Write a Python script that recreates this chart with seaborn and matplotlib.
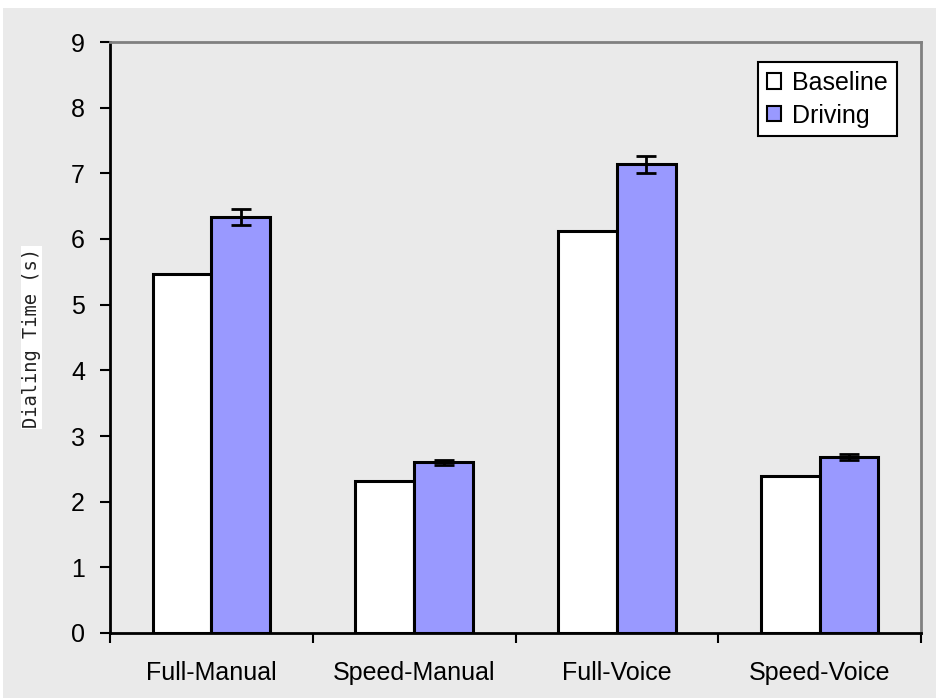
import numpy as np
import pandas as pd
import matplotlib
matplotlib.use("Agg")
import matplotlib.pyplot as plt
import seaborn as sns
from matplotlib.patches import Rectangle

# Data
tasks = ["Full-Manual", "Speed-Manual", "Full-Voice", "Speed-Voice"]
baseline = [5.47, 2.31, 6.12, 2.39]
driving = [6.33, 2.60, 7.14, 2.68]
baseline_err = [0.0, 0.0, 0.0, 0.0]
driving_err = [0.12, 0.04, 0.13, 0.04]
conditions = ["Baseline", "Driving"]
y_ticks = list(range(0, 10))

COLOURS = {"Baseline": "#FFFFFF", "Driving": "#9999FF"}
BG = "#EAEAEA"

df = pd.DataFrame({
    "task": tasks * 2,
    "condition": ["Baseline"] * len(tasks) + ["Driving"] * len(tasks),
    "time": baseline + driving,
    "err": baseline_err + driving_err,
})

sns.set_theme(style="white")
plt.rcParams["font.family"] = ["Liberation Sans", "DejaVu Sans"]
plt.rcParams.update({"text.color": "black", "axes.labelcolor": "black",
                     "xtick.color": "black", "ytick.color": "black"})

fig = plt.figure(figsize=(9.36, 6.98), dpi=100, facecolor="white")
fig.patches.append(Rectangle((3 / 936, 0), 1, 1 - 8 / 698, transform=fig.transFigure,
                             facecolor=BG, edgecolor="none", zorder=-10))
ax = fig.add_axes([110 / 936, 1 - 633 / 698, (921 - 110) / 936, (633 - 42) / 698])
ax.set_facecolor(BG)

sns.barplot(data=df, x="task", y="time", hue="condition", order=tasks,
            hue_order=conditions, palette=COLOURS, width=0.58, errorbar=None,
            edgecolor="black", linewidth=2.2, ax=ax, saturation=1)

# error bars, placed at the centres of the drawn bars
for cont, cond in zip(ax.containers, conditions):
    errs = df.loc[df["condition"] == cond, "err"].to_numpy()
    xs = [b.get_x() + b.get_width() / 2 for b in cont]
    hs = [b.get_height() for b in cont]
    ax.errorbar(xs, hs, yerr=errs, fmt="none", ecolor="black", elinewidth=2,
                capsize=7.5, capthick=2, zorder=5)

ax.set_ylim(0, 9)
ax.set_yticks(y_ticks)
ax.set_xlim(-0.5, len(tasks) - 0.5)
ax.set_xticks(np.arange(len(tasks) + 1) - 0.5, minor=True)
ax.tick_params(axis="x", which="major", length=0, labelsize=18, pad=20)
ax.tick_params(axis="x", which="minor", length=7, width=1.5, direction="out",
               color="black", bottom=True)
ax.tick_params(axis="y", length=7, width=1.5, direction="out", color="black",
               labelsize=18, left=True, pad=11)
ax.set_xlabel("")
ax.set_ylabel("Dialing Time (s)", fontsize=13.5, family="DejaVu Sans Mono",
              color="#222222", bbox=dict(facecolor="white", edgecolor="none", pad=1))
ax.yaxis.set_label_coords(-(110 - 41) / 811, 0.5)

for side in ["left", "bottom"]:
    ax.spines[side].set_color("black")
    ax.spines[side].set_linewidth(2)
for side in ["top", "right"]:
    ax.spines[side].set_color("#808080")
    ax.spines[side].set_linewidth(2)

leg = ax.legend(loc="upper right", bbox_to_anchor=(0.97, 0.966), borderaxespad=0,
                fontsize=18, frameon=True, fancybox=False, handlelength=0.55,
                handleheight=0.55, handletextpad=0.45, borderpad=0.35,
                labelspacing=0.35)
leg.get_frame().set_edgecolor("black")
leg.get_frame().set_linewidth(1.5)
leg.get_frame().set_facecolor("white")
leg.get_frame().set_alpha(1)
for h in leg.legend_handles:
    h.set_edgecolor("black")
    h.set_linewidth(1.5)

fig.savefig("out.png", dpi=100, facecolor=fig.get_facecolor())
plt.close(fig)
